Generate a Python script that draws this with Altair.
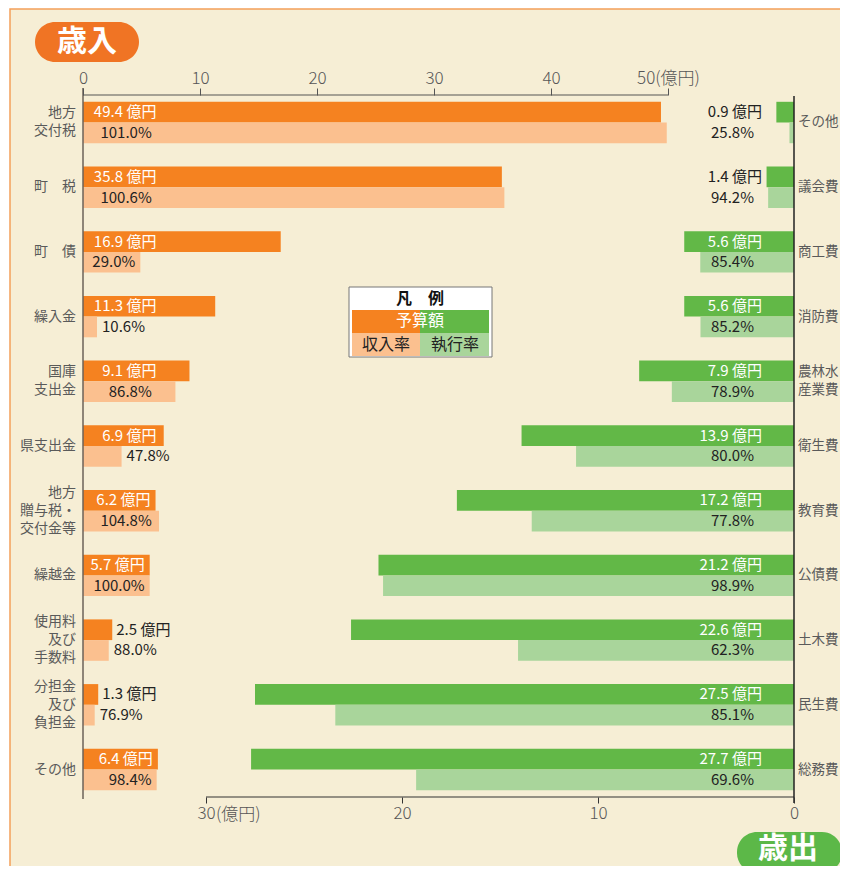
import altair as alt
import pandas as pd

# ---------------- data ----------------
rev_cats = ["地方\n交付税", "町　税", "町　債", "繰入金", "国庫\n支出金", "県支出金",
            "地方\n贈与税・\n交付金等", "繰越金", "使用料\n及び\n手数料", "分担金\n及び\n負担金", "その他"]
rev_budget = [49.4, 35.8, 16.9, 11.3, 9.1, 6.9, 6.2, 5.7, 2.5, 1.3, 6.4]
rev_rate = [101.0, 100.6, 29.0, 10.6, 86.8, 47.8, 104.8, 100.0, 88.0, 76.9, 98.4]

exp_cats = ["その他", "議会費", "商工費", "消防費", "農林水\n産業費", "衛生費",
            "教育費", "公債費", "土木費", "民生費", "総務費"]
exp_budget = [0.9, 1.4, 5.6, 5.6, 7.9, 13.9, 17.2, 21.2, 22.6, 27.5, 27.7]
exp_rate = [25.8, 94.2, 85.4, 85.2, 78.9, 80.0, 77.8, 98.9, 62.3, 85.1, 69.6]

rev_ticks = [0, 10, 20, 30, 40, 50]
exp_ticks = [0, 10, 20, 30]

# ---------------- style ----------------
W, H = 711, 702
ROWPX = H / 10.85
LH = 18
FONT = "Noto Sans CJK JP"
OR_D, OR_L = "#F58220", "#FBC08F"
GR_D, GR_L = "#62B847", "#A9D59B"
CREAM = "#F6EED5"
TXT = "#222222"
LAB = "#5a5a5a"

rev_df = pd.DataFrame({"row": list(range(11)), "cat": rev_cats,
                       "budget": rev_budget, "rate": rev_rate})
exp_df = pd.DataFrame({"row": list(range(11)), "cat": exp_cats,
                       "budget": exp_budget, "rate": exp_rate})
one = pd.DataFrame({"a": [0]})

y_scale = alt.Scale(domain=[-0.425, 10.425], reverse=True, nice=False, zero=False)
rev_scale = alt.Scale(domain=[0, W / 11.7], nice=False, zero=False)
exp_scale = alt.Scale(domain=[0, W / 19.6], nice=False, zero=False, reverse=True)

rev_axis = alt.Axis(orient="top", values=rev_ticks, domain=False, grid=False,
                    tickSize=7, tickColor="#555", labelColor="#555", labelFont=FONT,
                    labelFontSize=17, labelPadding=1, labelFlush=False,
                    labelFontWeight=300, zindex=2,
                    labelExpr="datum.value == 50 ? '50(億円)' : datum.label", title=None)
exp_axis = alt.Axis(orient="bottom", values=exp_ticks, domain=False, grid=False,
                    tickSize=6, tickColor="#333", labelColor="#555", labelFont=FONT,
                    labelFontSize=17, labelPadding=2, labelFlush=False,
                    labelFontWeight=300, zindex=2, title=None)


def rx(f):
    return alt.X(f, type="quantitative", scale=rev_scale, axis=rev_axis)


def ex(f):
    return alt.X(f, type="quantitative", scale=exp_scale, axis=exp_axis)


def yy(f):
    return alt.Y(f, type="quantitative", scale=y_scale, axis=None)


calc = dict(
    zero="0",
    actual="datum.budget * datum.rate / 100",
    y0="datum.row - 0.32",
    y1="datum.row + 0.32",
    yb="datum.row - 0.16",
    yp="datum.row + 0.16",
    bl="format(datum.budget, '.1f') + ' 億円'",
    pl="format(datum.rate, '.1f') + '%'",
)

# ---------------- revenue (left, top axis) ----------------
rb = alt.Chart(rev_df).transform_calculate(**calc).transform_calculate(
    bx="min(datum.budget, 6.7)", px="min(datum.actual, 6.3)")

rev_rule = alt.Chart(pd.DataFrame({"a": [0], "b": [50]})).mark_rule(
    color="#555", strokeWidth=1.2).encode(x=rx("a"), x2="b:Q", y=alt.value(0))
rev_dark = rb.mark_rect(color=OR_D).encode(x=rx("zero"), x2="budget:Q", y=yy("y0"), y2="row:Q")
rev_light = rb.mark_rect(color=OR_L).encode(x=rx("zero"), x2="actual:Q", y=yy("row"), y2="y1:Q")
tkw = dict(font=FONT, fontSize=15, baseline="middle")
rev_bt_in = rb.transform_filter("datum.budget >= 4").mark_text(
    align="right", dx=-5, color="white", **tkw).encode(x=rx("bx"), y=yy("yb"), text="bl:N")
rev_bt_out = rb.transform_filter("datum.budget < 4").mark_text(
    align="left", dx=4, color=TXT, **tkw).encode(x=rx("budget"), y=yy("yb"), text="bl:N")
rev_pt_in = rb.transform_filter("datum.actual >= 4").mark_text(
    align="right", dx=-5, color=TXT, **tkw).encode(x=rx("px"), y=yy("yp"), text="pl:N")
rev_pt_out = rb.transform_filter("datum.actual < 4").mark_text(
    align="left", dx=5, color=TXT, **tkw).encode(x=rx("actual"), y=yy("yp"), text="pl:N")

rev = alt.layer(rev_rule, rev_dark, rev_light, rev_bt_in, rev_bt_out, rev_pt_in, rev_pt_out)

# ---------------- expenditure (right, bottom axis) ----------------
eb = alt.Chart(exp_df).transform_calculate(**calc)
exp_rule = alt.Chart(pd.DataFrame({"a": [0], "b": [30]})).mark_rule(
    color="#333", strokeWidth=1.2).encode(x=ex("a"), x2="b:Q", y=alt.value(H))
exp_unit = alt.Chart(pd.DataFrame({"a": [30], "t": ["(億円)"]})).mark_text(
    align="left", dx=10, baseline="middle", font=FONT, fontSize=17, fontWeight=300,
    color="#555").encode(x=ex("a"), y=alt.value(H + 18), text="t:N")
exp_dark = eb.mark_rect(color=GR_D).encode(x=ex("zero"), x2="budget:Q", y=yy("y0"), y2="row:Q")
exp_light = eb.mark_rect(color=GR_L).encode(x=ex("zero"), x2="actual:Q", y=yy("row"), y2="y1:Q")
exp_bt = eb.mark_text(align="right", dx=-32, **tkw).encode(
    x=ex("zero"), y=yy("yb"), text="bl:N",
    color=alt.condition("datum.budget >= 4", alt.value("white"), alt.value(TXT)))
exp_pt = eb.mark_text(align="right", dx=-40, color=TXT, **tkw).encode(
    x=ex("zero"), y=yy("yp"), text="pl:N")

exp = alt.layer(exp_rule, exp_unit, exp_dark, exp_light, exp_bt, exp_pt)

# ---------------- category labels & axis lines ----------------
lab_calc = dict(ylab=f"datum.row - (length(split(datum.cat, '\\n')) - 1) * {LH / 2 / ROWPX}")
left_lab = alt.Chart(rev_df).transform_calculate(**lab_calc).mark_text(
    align="right", baseline="middle", font=FONT, fontSize=14, lineHeight=LH,
    lineBreak="\n", color=LAB).encode(x=alt.value(-7), y=yy("ylab"), text="cat:N")
right_lab = alt.Chart(exp_df).transform_calculate(**lab_calc).mark_text(
    align="left", baseline="middle", font=FONT, fontSize=13.5, lineHeight=LH,
    lineBreak="\n", color=LAB).encode(x=alt.value(715), y=yy("ylab"), text="cat:N")
left_line = alt.Chart(one).mark_rule(color="#6b6258", strokeWidth=1.5).encode(
    x=alt.value(0), y=alt.value(-7), y2=alt.value(H + 2))
right_line = alt.Chart(one).mark_rule(color="#222", strokeWidth=1.5).encode(
    x=alt.value(W), y=alt.value(1), y2=alt.value(H + 6))

# ---------------- frame, badges, legend box ----------------
frame = alt.Chart(one).mark_rect(fill=CREAM, stroke="#F4A05A", strokeWidth=1.5).encode(
    x=alt.value(-73), x2=alt.value(W + 80), y=alt.value(-86), y2=alt.value(H + 90))


def box(x, x2, y, y2, **kw):
    return alt.Chart(one).mark_rect(**kw).encode(
        x=alt.value(x), x2=alt.value(x2), y=alt.value(y), y2=alt.value(y2))


def label(x, y, t, **kw):
    return alt.Chart(pd.DataFrame({"t": [t]})).mark_text(
        font=FONT, align="center", baseline="middle", **kw).encode(
        x=alt.value(x), y=alt.value(y), text="t:N")


badge_in = box(-48, 56, -73, -33, fill="#F07424", cornerRadius=20)
badge_in_t = label(4, -53, "歳入", fontSize=30, fontWeight="bold", color="white")
badge_out = box(654, 759, 737, 778, fill="#5CB848", cornerRadius=20)
badge_out_t = label(705, 754, "歳出", fontSize=30, fontWeight="bold", color="white")

leg_box = box(266, 409, 192, 262, fill="white", stroke="#777", strokeWidth=1)
leg_o = box(269, 337, 215, 238, fill=OR_D)
leg_g = box(337, 406, 215, 238, fill=GR_D)
leg_ol = box(269, 337, 238, 261, fill=OR_L)
leg_gl = box(337, 406, 238, 261, fill=GR_L)
leg_t1 = label(337, 204, "凡　例", fontSize=16, fontWeight="bold", color="#111")
leg_t2 = label(337, 226, "予算額", fontSize=16, color="white")
leg_t3 = label(303, 250, "収入率", fontSize=16, color="#222")
leg_t4 = label(372, 250, "執行率", fontSize=16, color="#222")

chart = alt.layer(
    frame, badge_in, badge_in_t, badge_out, badge_out_t,
    exp, rev,
    left_line, right_line, left_lab, right_lab,
    leg_box, leg_o, leg_g, leg_ol, leg_gl, leg_t1, leg_t2, leg_t3, leg_t4,
).resolve_scale(x="independent").properties(
    width=W, height=H,
    autosize=alt.AutoSizeParams(type="none"),
    padding={"left": 75, "top": 87, "right": 46, "bottom": 69},
    background="white",
).configure_view(stroke=None).configure(font=FONT)

chart.save("out.html", embed_options={"renderer": "svg", "actions": False})
